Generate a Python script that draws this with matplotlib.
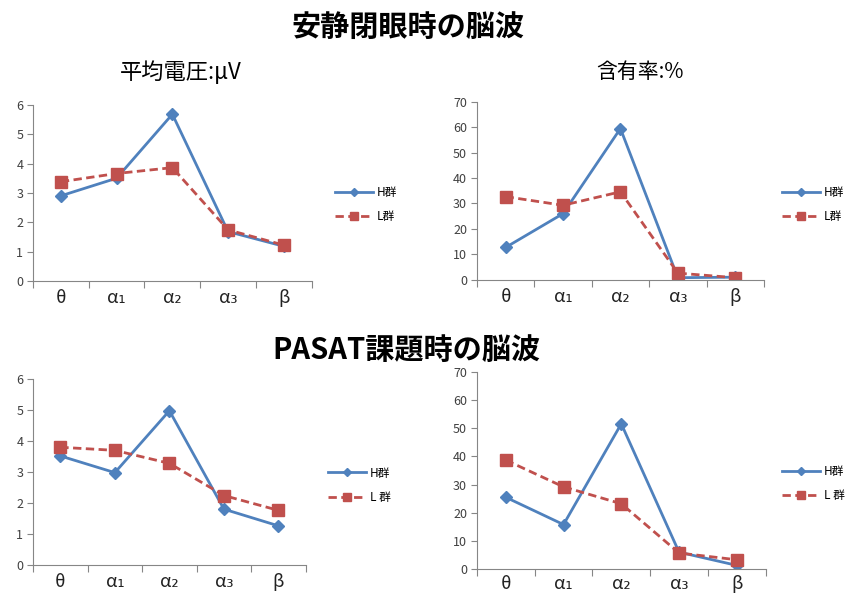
import matplotlib
matplotlib.use("Agg")
import matplotlib.pyplot as plt

plt.rcParams['font.family'] = ['Noto Sans CJK JP', 'DejaVu Sans']

bands = ["θ", "α₁", "α₂", "α₃", "β"]

# 安静閉眼時
rest_volt_h = [2.9, 3.5, 5.68, 1.68, 1.18]
rest_volt_l = [3.38, 3.66, 3.86, 1.74, 1.22]
rest_pct_h = [12.7, 26.0, 59.5, 0.8, 1.0]
rest_pct_l = [32.7, 29.3, 34.6, 2.6, 0.8]

# PASAT課題時
task_volt_h = [3.52, 2.98, 4.98, 1.8, 1.26]
task_volt_l = [3.8, 3.7, 3.28, 2.24, 1.76]
task_pct_h = [25.5, 15.8, 51.6, 6.0, 1.3]
task_pct_l = [38.7, 29.2, 23.2, 5.7, 3.3]

blue = "#4F81BD"
red = "#C0504D"
gray = "#868686"

fig = plt.figure(figsize=(8.47, 5.99), dpi=100)


def panel(rect, h, l, ymax, ystep, l_label, leg_xy, pad=6):
    ax = fig.add_axes(rect)
    x = list(range(1, len(bands) + 1))
    lh, = ax.plot(x, h, color=blue, lw=2, marker="D", ms=6, label="H群")
    ll, = ax.plot(x, l, color=red, lw=2, ls=(0, (3, 1.6)), marker="s", ms=8, label=l_label)
    ax.set_xlim(0.5, len(bands) + 0.5)
    ax.set_ylim(0, ymax)
    ax.set_yticks(range(0, ymax + 1, ystep))
    ax.set_xticks([i + 0.5 for i in range(len(bands) + 1)])
    ax.set_xticklabels([])
    ax.set_xticks(x, minor=True)
    ax.set_xticklabels(bands, minor=True, fontsize=13, color="#222222")
    ax.tick_params(axis="x", which="minor", length=0, pad=pad)
    ax.tick_params(axis="x", which="major", length=5, color=gray, direction="out")
    ax.tick_params(axis="y", length=4, color=gray, labelsize=9, labelcolor="#404040", pad=3)
    for s in ("top", "right"):
        ax.spines[s].set_visible(False)
    for s in ("left", "bottom"):
        ax.spines[s].set_color(gray)
    ax.legend(handles=[lh, ll], loc="center left", bbox_to_anchor=leg_xy,
              bbox_transform=fig.transFigure, frameon=False, fontsize=8.5,
              handlelength=3.2, handletextpad=0.35, labelspacing=0.95,
              markerscale=0.75)
    return ax


panel([0.039, 0.531, 0.329, 0.294], rest_volt_h, rest_volt_l, 6, 1, "L群", (0.383, 0.658))
panel([0.563, 0.533, 0.339, 0.297], rest_pct_h, rest_pct_l, 70, 10, "L群", (0.911, 0.658))
panel([0.039, 0.057, 0.322, 0.310], task_volt_h, task_volt_l, 6, 1, "L 群", (0.375, 0.190))
panel([0.563, 0.050, 0.341, 0.329], task_pct_h, task_pct_l, 70, 10, "L 群", (0.911, 0.193), pad=4)

fig.text(0.482, 0.955, "安静閉眼時の脳波", ha="center", va="center", fontsize=21, fontweight="bold")
fig.text(0.213, 0.880, "平均電圧:μV", ha="center", va="center", fontsize=16)
fig.text(0.756, 0.880, "含有率:%", ha="center", va="center", fontsize=15)
fig.text(0.480, 0.416, "PASAT課題時の脳波", ha="center", va="center", fontsize=21, fontweight="bold")

fig.savefig("out.png", dpi=100)
